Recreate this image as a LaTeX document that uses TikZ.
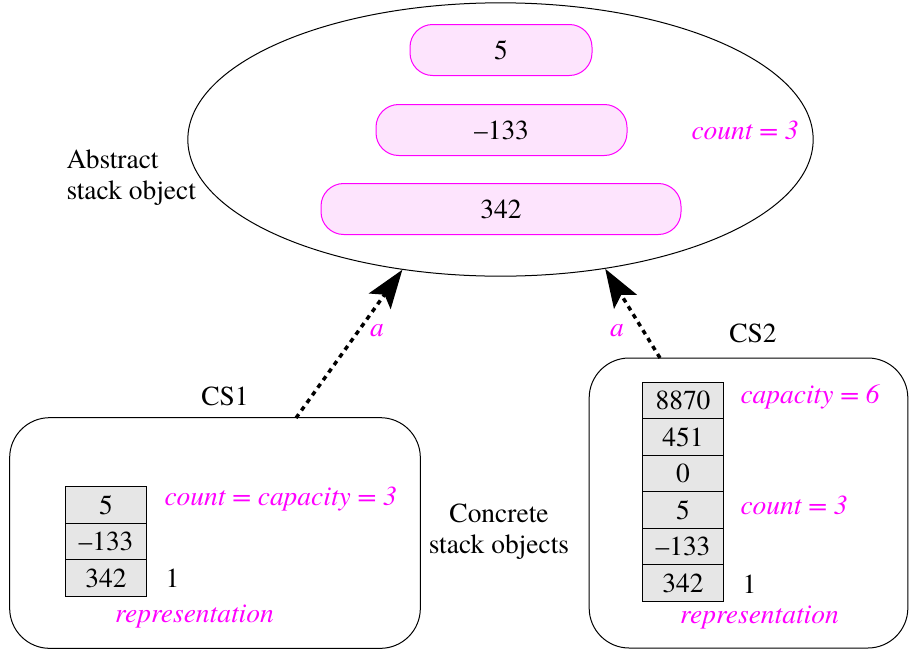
\documentclass[tikz,border=0pt]{standalone}
\usepackage{fontspec}
\IfFontExistsTF{TeX Gyre Termes}{\setmainfont{TeX Gyre Termes}}{\setmainfont{Liberation Serif}}
\usetikzlibrary{shapes.geometric,arrows.meta}

\definecolor{magline}{RGB}{255,0,255}
\definecolor{pillfill}{RGB}{253,228,253}
\definecolor{cellfill}{RGB}{230,230,230}

\tikzset{every picture/.style={line width=0.75pt}}
\tikzset{
	pill/.style={draw=magline, fill=pillfill, rounded corners=17pt, minimum height=38.25pt, inner sep=0pt},
	cell/.style={draw, fill=cellfill, line width=1.1pt, minimum width=61pt, minimum height=27.4pt, inner sep=0pt},
	objbox/.style={draw, rounded corners=30pt, inner sep=0pt},
	magtext/.style={text=magline, font=\itshape, inner sep=0.75pt},
	absarrow/.style={line width=2.6pt, dash pattern=on 3.5pt off 3.5pt, -{Stealth[length=29pt,width=20pt,inset=6pt]}}
}

\begin{document}
\fontsize{20.6}{23.3}\selectfont%
\begin{tikzpicture}[x=0.75pt,y=0.75pt,yscale=-1,xscale=1]
			\useasboundingbox (0,0) rectangle (912,650);
			
			%Shape: Ellipse [abstract stack object]
			\node [draw, ellipse, minimum width=469pt, minimum height=205pt, inner sep=0pt] (abs) at (500.5,139.5) {};
			%Pills
			\node [pill, minimum width=136.5pt] (p5) at (501,50) {5};
			\node [pill, minimum width=188.25pt] (p133) at (501.5,130) {--133};
			\node [pill, minimum width=270pt] (p342) at (501,209) {342};
			% Text Node
			\node [magtext, anchor=west] (abscount) at (690,130) {count = 3};
			% Text Node
			\node [anchor=west, align=left, inner sep=0.75pt] (abslbl) at (65,178) {Abstract\\stack object};
			
			%Rounded Rect [CS1]
			\node [objbox, minimum width=308pt, minimum height=173pt] (cs1) at (215,533) {};
			\node (cs1lbl) at (225,396) {CS1};
			%Stack cells
			\node [cell] (s1a) at (106,505) {5};
			\node [cell] (s1b) at (106,541.5) {--133};
			\node [cell] (s1c) at (106,578) {342};
			% Text Node
			\node [magtext, anchor=west] (cs1count) at (163,499) {count = capacity = 3};
			\node [anchor=west, inner sep=0.75pt] (cs1one) at (164,578) {1};
			\node [magtext] (cs1rep) at (194.5,616) {representation};
			
			%Rounded Rect [CS2]
			\node [objbox, minimum width=239pt, minimum height=217.5pt] (cs2) at (748.5,503) {};
			\node (cs2lbl) at (753,333) {CS2};
			%Stack cells
			\node [cell] (s2a) at (683,400.5) {8870};
			\node [cell] (s2b) at (683,437) {451};
			\node [cell] (s2c) at (683,473.5) {0};
			\node [cell] (s2d) at (683,510) {5};
			\node [cell] (s2e) at (683,546.5) {--133};
			\node [cell] (s2f) at (683,583) {342};
			% Text Node
			\node [magtext, anchor=west] (cs2cap) at (739,397) {capacity = 6};
			\node [magtext, anchor=west] (cs2count) at (739,505) {count = 3};
			\node [anchor=west, inner sep=0.75pt] (cs2one) at (741,584) {1};
			\node [magtext] (cs2rep) at (759.5,617) {representation};
			
			% Text Node
			\node [align=center] (conclbl) at (499,532) {Concrete\\stack objects};
			
			%Abstraction arrows
			\coordinate (cs1tail) at (296,418);
			\coordinate (cs2tail) at (660,358);
			\draw [absarrow] (cs1tail) -- (abs.233);
			\draw [absarrow] (cs2tail) -- (abs.309);
			\node [magtext] (a1) at (377,331) {a};
			\node [magtext] (a2) at (617,331) {a};
		\end{tikzpicture}
\end{document}
